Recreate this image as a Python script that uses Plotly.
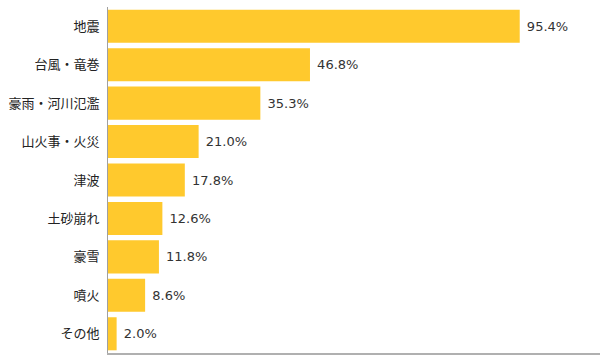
import plotly.graph_objects as go

categories = ["地震", "台風・竜巻", "豪雨・河川氾濫", "山火事・火災", "津波", "土砂崩れ", "豪雪", "噴火", "その他"]
values = [95.4, 46.8, 35.3, 21.0, 17.8, 12.6, 11.8, 8.6, 2.0]
labels = [f" {v:.1f}%" for v in values]

fig = go.Figure(go.Bar(
    x=values, y=categories, orientation="h",
    marker=dict(color="#FFC92D", line=dict(width=0)),
    text=labels, textposition="outside", cliponaxis=False,
    textfont=dict(family="DejaVu Sans, Verdana, sans-serif", size=13, color="#333"),
    width=0.86,
))
fig.update_layout(
    width=600, height=364,
    margin=dict(l=108, r=0, t=7, b=11, autoexpand=False),
    plot_bgcolor="white", paper_bgcolor="white",
    showlegend=False,
    bargap=0.14,
    xaxis=dict(range=[0, 114], showgrid=False, zeroline=False, showticklabels=False,
               showline=True, linecolor="#b0b0b0", linewidth=2, fixedrange=True,
               automargin=False),
    yaxis=dict(autorange="reversed", showgrid=False, zeroline=False,
               showline=True, linecolor="#a0a0a0", linewidth=1,
               ticks="", ticklabelstandoff=5, automargin=False,
               tickfont=dict(family="Noto Sans CJK JP", size=13, color="#222")),
    uniformtext=dict(minsize=13),
)
fig.write_html("out.html", config={"displayModeBar": False},
               post_script="document.body.style.margin='0';document.body.style.overflow='hidden';")
